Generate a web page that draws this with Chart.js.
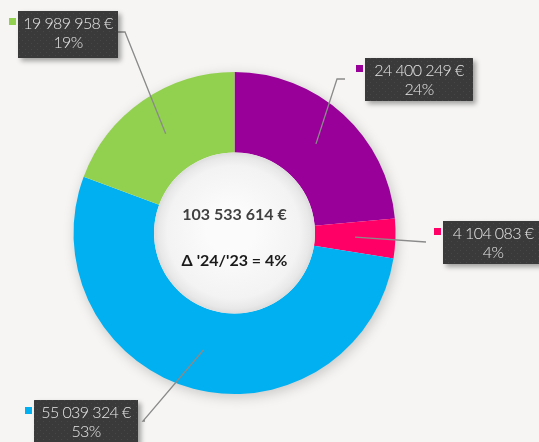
<!DOCTYPE html>
<html>
<head>
<meta charset="utf-8">
<script src="https://cdn.jsdelivr.net/npm/chart.js@4"></script>
<style>
html,body{margin:0;padding:0;background:#f6f5f3;}
#wrap{width:539px;height:442px;position:relative;}
</style>
</head>
<body>
<div id="wrap"><canvas id="c" width="539" height="442"></canvas></div>
<script>
const categories = ['A', 'B', 'C', 'D'];
const values = [24400249, 4104083, 55039324, 19989958];
const valueLabels = ['24 400 249 €', '4 104 083 €', '55 039 324 €', '19 989 958 €'];
const percentLabels = ['24%', '4%', '53%', '19%'];
const totalLabel = '103 533 614 €';
const deltaLabel = "Δ '24/'23 = 4%";
const colors = ['#990099', '#ff0066', '#00b0f0', '#92d050'];

// label box placement (top-left of box) and leader elbow points
const labelBoxes = [
  {x: 365, y: 58, w: 108, h: 43, elbow: [345, 79], end: [337, 79]},
  {x: 443, y: 221, w: 100, h: 43, elbow: null, end: [426, 242]},
  {x: 34, y: 400, w: 104, h: 43, elbow: [145, 421], end: [143, 421]},
  {x: 18, y: 11, w: 100, h: 47, elbow: [118, 32], end: [125, 32]}
];

function makePattern(ctx){
  const t = document.createElement('canvas');
  t.width = 6; t.height = 6;
  const c = t.getContext('2d');
  c.fillStyle = '#3a3a3a'; c.fillRect(0,0,6,6);
  c.fillStyle = '#474747'; c.fillRect(1,1,1,1); c.fillRect(4,4,1,1);
  return ctx.createPattern(t, 'repeat');
}

const shadowPlugin = {
  id: 'ringShadow',
  beforeDatasetsDraw(chart){
    const ctx = chart.ctx;
    const arc = chart.getDatasetMeta(0).data[0];
    if(!arc) return;
    const {x, y, outerRadius} = arc.getProps(['x','y','outerRadius'], true);
    ctx.save();
    ctx.shadowColor = 'rgba(0,0,0,0.22)';
    ctx.shadowBlur = 14;
    ctx.shadowOffsetX = 2;
    ctx.shadowOffsetY = 3;
    ctx.fillStyle = '#f6f5f3';
    ctx.beginPath(); ctx.arc(x, y, outerRadius - 1, 0, Math.PI*2); ctx.fill();
    ctx.restore();
  },
  afterDatasetsDraw(chart){
    const ctx = chart.ctx;
    const meta = chart.getDatasetMeta(0);
    const arc0 = meta.data[0];
    const {x, y, innerRadius, outerRadius} = arc0.getProps(['x','y','innerRadius','outerRadius'], true);
    // inner hole
    ctx.save();
    const g = ctx.createRadialGradient(x - 4, y - 4, innerRadius*0.3, x, y, innerRadius);
    g.addColorStop(0, '#fbfbfb');
    g.addColorStop(0.75, '#f3f3f3');
    g.addColorStop(0.92, '#e8e8e8');
    g.addColorStop(1, '#dcdcdc');
    ctx.fillStyle = g;
    ctx.beginPath(); ctx.arc(x, y, innerRadius, 0, Math.PI*2); ctx.fill();
    ctx.restore();

    // center texts
    ctx.save();
    ctx.textAlign = 'center';
    ctx.textBaseline = 'middle';
    ctx.font = 'bold 16px Lato, "Open Sans", sans-serif';
    ctx.fillStyle = '#404040';
    ctx.fillText(totalLabel, x, y - 18);
    ctx.fillStyle = '#1a1a1a';
    ctx.fillText(deltaLabel, x, y + 28);
    ctx.restore();

    // leader lines and labels
    const pattern = makePattern(ctx);
    const midR = (innerRadius + outerRadius) / 2;
    meta.data.forEach((a, i) => {
      const p = a.getProps(['startAngle','endAngle'], true);
      const mid = (p.startAngle + p.endAngle) / 2;
      const ax = x + Math.cos(mid) * midR;
      const ay = y + Math.sin(mid) * midR;
      const b = labelBoxes[i];
      ctx.save();
      ctx.strokeStyle = '#8a8a8a';
      ctx.lineWidth = 1.3;
      ctx.beginPath();
      ctx.moveTo(ax, ay);
      ctx.lineTo(b.end[0], b.end[1]);
      if (b.elbow) ctx.lineTo(b.elbow[0], b.elbow[1]);
      ctx.stroke();
      ctx.restore();

      ctx.save();
      ctx.shadowColor = 'rgba(0,0,0,0.35)';
      ctx.shadowBlur = 5;
      ctx.shadowOffsetX = 3;
      ctx.shadowOffsetY = 3;
      ctx.fillStyle = pattern;
      ctx.fillRect(b.x, b.y, b.w, b.h);
      ctx.restore();

      ctx.save();
      ctx.fillStyle = colors[i];
      ctx.fillRect(b.x - 9, b.y + 7, 7, 7);
      ctx.fillStyle = '#e6e6e6';
      ctx.textAlign = 'center';
      ctx.textBaseline = 'middle';
      ctx.font = '300 16px Lato, "Open Sans", sans-serif';
      try { ctx.letterSpacing = '-0.6px'; } catch(e) {}
      ctx.fillText(valueLabels[i], b.x + b.w/2, b.y + 13);
      ctx.fillText(percentLabels[i], b.x + b.w/2, b.y + 32);
      ctx.restore();
    });
  }
};

new Chart(document.getElementById('c'), {
  type: 'doughnut',
  data: {
    labels: categories,
    datasets: [{
      data: values,
      backgroundColor: colors,
      borderWidth: 0,
      hoverOffset: 0
    }]
  },
  options: {
    responsive: false,
    animation: false,
    cutout: '50%',
    layout: {padding: {left: 73.5, right: 143.5, top: 72, bottom: 48}},
    plugins: {legend: {display: false}, tooltip: {enabled: false}}
  },
  plugins: [shadowPlugin]
});
</script>
</body>
</html>
